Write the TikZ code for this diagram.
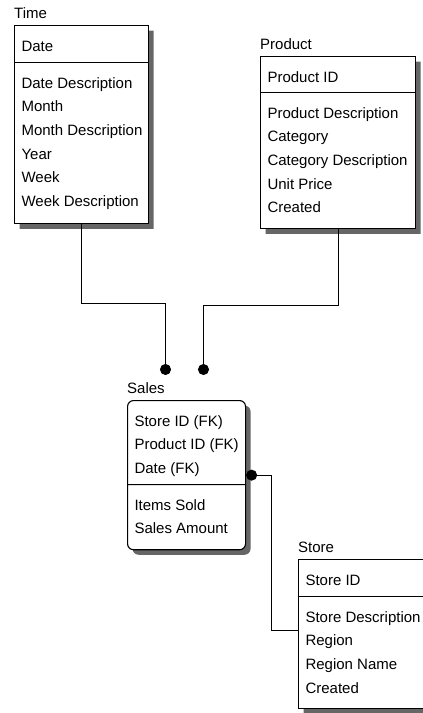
\documentclass[tikz,border=0pt]{standalone}
\usepackage{fontspec}
\setmainfont{Liberation Sans}
\usepackage{tikz}
\usetikzlibrary{shapes.multipart,shadows,arrows.meta,positioning,calc}
\newcommand{\erPart}[3]{\parbox[c][#1][t]{#2}{\vspace*{8.5pt}\raggedright\leftskip=7pt\strut #3}}
\tikzset{
  entityBox/.style={
    rectangle split,
    rectangle split parts=2,
    draw=black,
    line width=1.1pt,
    fill=white,
    inner sep=0pt,
    anchor=north west,
    font=\fontsize{15}{23.6}\selectfont,
    drop shadow={shadow xshift=5pt, shadow yshift=-5pt, fill=black!60, opacity=1}
  },
  entityTitle/.style={
    inner sep=0pt,
    font=\fontsize{15}{23.6}\selectfont
  },
  relLine/.style={
    -{Circle[length=11pt]},
    line width=1pt
  }
}
\begin{document}
\begin{tikzpicture}[x=1pt,y=-1pt]
  \useasboundingbox (0,0) rectangle (423,713);
  \clip (0,0) rectangle (423,713);

  % entities
  \node[entityBox] (timeEnt) at (14,25)
    {\erPart{36pt}{134pt}{Date}\nodepart{two}\erPart{160pt}{134pt}{Date Description\\Month\\Month Description\\Year\\Week\\Week Description}};
  \node[entityBox] (productEnt) at (260,56)
    {\erPart{35pt}{155pt}{Product ID}\nodepart{two}\erPart{135pt}{155pt}{Product Description\\Category\\Category Description\\Unit Price\\Created}};
  \node[entityBox, rounded corners=6pt] (salesEnt) at (127,400)
    {\erPart{83pt}{118pt}{Store ID (FK)\\Product ID (FK)\\Date (FK)}\nodepart{two}\erPart{64pt}{118pt}{Items Sold\\Sales Amount}};
  \node[entityBox] (storeEnt) at (298,559)
    {\erPart{36pt}{135pt}{Store ID}\nodepart{two}\erPart{111pt}{135pt}{Store Description\\Region\\Region Name\\Created}};

  \node[entityTitle, above=7pt of timeEnt.north west, anchor=base west] (timeTitle) {Time};
  \node[entityTitle, above=7pt of productEnt.north west, anchor=base west] (productTitle) {Product};
  \node[entityTitle, above=7pt of salesEnt.north west, anchor=base west] (salesTitle) {Sales};
  \node[entityTitle, above=7pt of storeEnt.north west, anchor=base west] (storeTitle) {Store};

  % relationships
  \coordinate (timeDot) at (165.5,375);
  \coordinate (productDot) at (203.5,375);
  \coordinate (storeLink) at (298,630.5);

  \draw[relLine] (timeEnt.south) -- ++(0,79) -| (timeDot);
  \draw[relLine] (productEnt.south) -- ++(0,76) -| (productDot);
  \draw[relLine] (storeLink) -- ++(-26.5,0) |- (salesEnt.east);
\end{tikzpicture}
\end{document}
